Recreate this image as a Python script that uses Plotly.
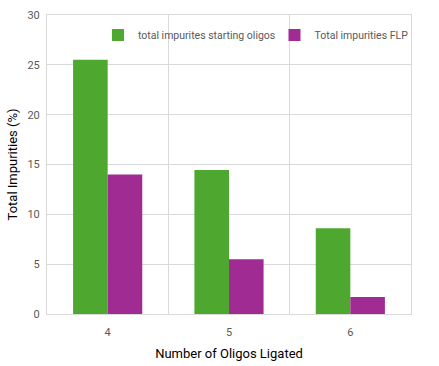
import plotly.graph_objects as go

categories = [4, 5, 6]
starting_oligos = [25.5, 14.45, 8.6]
flp = [14.0, 5.5, 1.7]
series_names = ["total impurites starting oligos", "Total impurities FLP"]
y_ticks = [0, 5, 10, 15, 20, 25, 30]
boundaries = [3.5, 4.5, 5.5, 6.5]

FONT = "Roboto"
GRID = "#D9D9D9"
fig = go.Figure()
fig.add_trace(go.Bar(x=categories, y=starting_oligos, name=series_names[0],
                     marker=dict(color="#4EA72E", line=dict(width=0)), legend="legend"))
fig.add_trace(go.Bar(x=categories, y=flp, name=series_names[1],
                     marker=dict(color="#A02B93", line=dict(width=0)), legend="legend2"))

leg_common = dict(orientation="h", yanchor="middle", xanchor="left",
                  font=dict(family=FONT, size=10.5, color="#595959"),
                  bgcolor="rgba(0,0,0,0)", itemwidth=30)

fig.update_layout(
    width=439, height=366,
    margin=dict(l=47, r=28, t=15, b=52, autoexpand=False),
    paper_bgcolor="white", plot_bgcolor="white",
    barmode="group", bargap=0.43, bargroupgap=0,
    font=dict(family=FONT, size=11, color="#595959"),
    showlegend=True,
    legend=dict(x=0.14, y=0.933, **leg_common),
    legend2=dict(x=0.625, y=0.933, **leg_common),
    xaxis=dict(
        type="linear", range=[3.5, 6.5], tickvals=categories,
        ticktext=[str(c) for c in categories],
        showgrid=False, zeroline=False,
        showline=True, linecolor=GRID, linewidth=1, mirror=True,
        ticks="", ticklabelstandoff=8, automargin=True,
        minor=dict(tickvals=boundaries, showgrid=True, gridcolor=GRID, gridwidth=1, ticks=""),
        title=dict(text="Number of Oligos Ligated", standoff=10,
                   font=dict(family=FONT, size=13, color="#000000")),
        tickfont=dict(family=FONT, size=11, color="#595959"),
    ),
    yaxis=dict(
        range=[0, 30], tickvals=y_ticks,
        showgrid=True, gridcolor=GRID, gridwidth=1,
        zeroline=False, showline=True, linecolor=GRID, linewidth=1, mirror=True,
        ticks="", automargin=True, ticklabelstandoff=4,
        title=dict(text="Total Impurities (%)", standoff=6,
                   font=dict(family=FONT, size=13, color="#000000")),
        tickfont=dict(family=FONT, size=11, color="#595959"),
    ),
)

fig.write_html("out.html", config={"displayModeBar": False},
               post_script="document.body.style.margin='0';document.body.style.overflow='hidden';")
